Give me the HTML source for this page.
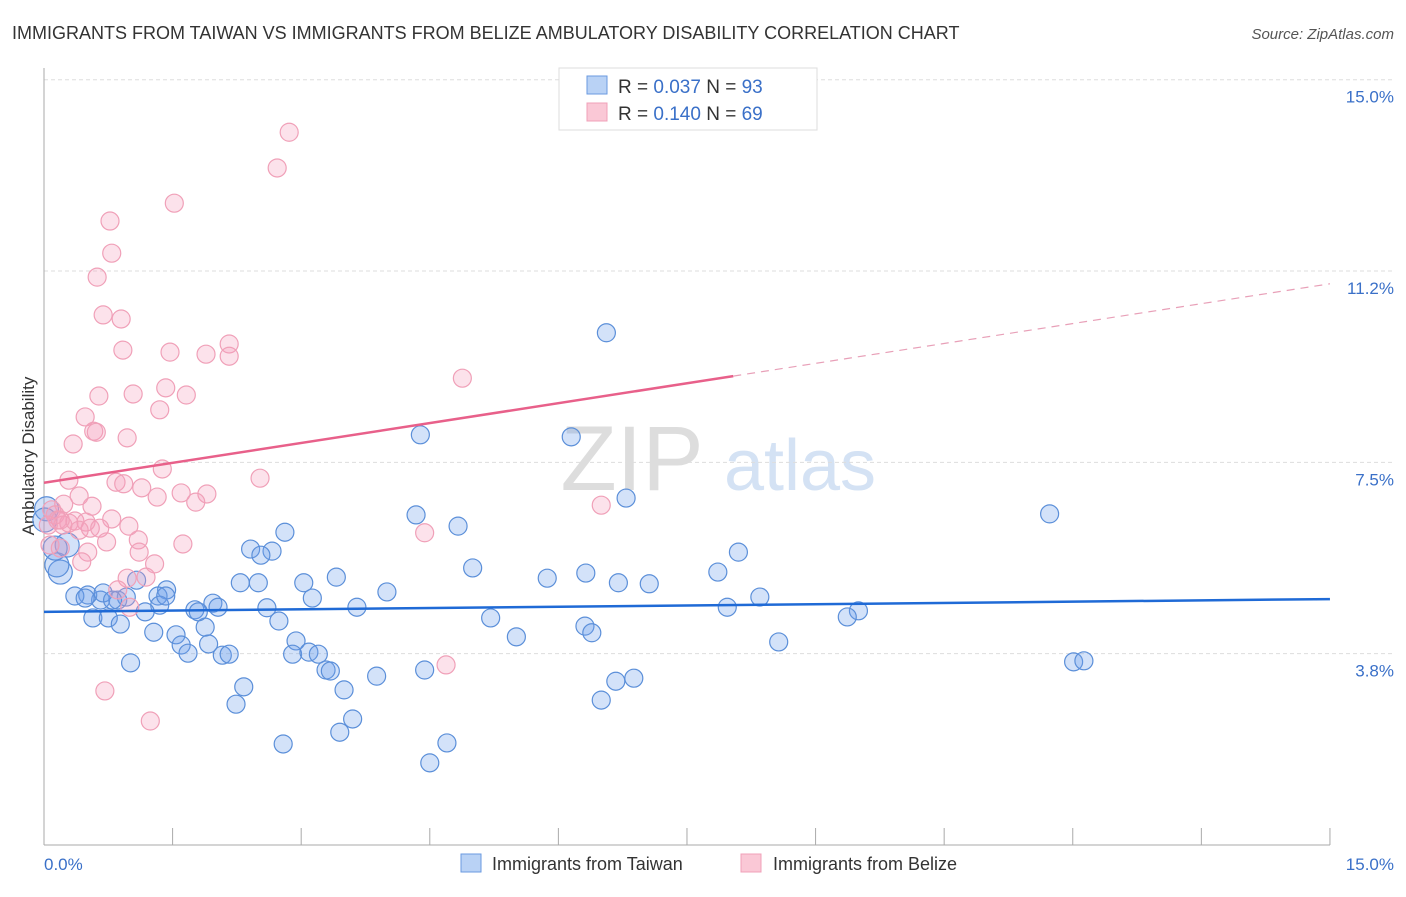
<!DOCTYPE html>
<html><head><meta charset="utf-8"><style>
body{margin:0;background:#fff;font-family:"Liberation Sans",sans-serif}
svg text{font-family:"Liberation Sans",sans-serif}
</style></head><body>
<svg width="1406" height="892" id="c">
<text x="12" y="39" font-size="18" fill="#333">IMMIGRANTS FROM TAIWAN VS IMMIGRANTS FROM BELIZE AMBULATORY DISABILITY CORRELATION CHART</text>
<text x="1394" y="39" font-size="15" fill="#555" font-style="italic" text-anchor="end">Source: ZipAtlas.com</text>
<g><text x="632" y="490" font-size="92" fill="#ddd" font-family="Liberation Serif" text-anchor="middle">ZIP</text><text x="800" y="490" font-size="72" fill="#d4e2f4" text-anchor="middle">atlas</text></g>
<g id="grid"></g>
<line x1="44" y1="68" x2="44" y2="845" stroke="#aaa"/>
<line x1="44" y1="845" x2="1330" y2="845" stroke="#aaa"/>
<text transform="translate(34,456) rotate(-90)" font-size="17" fill="#333" text-anchor="middle">Ambulatory Disability</text>
<text x="44" y="870" font-size="17" fill="#3a70c8">0.0%</text>
<text x="1394" y="870" font-size="17" fill="#3a70c8" text-anchor="end">15.0%</text>
<g id="pts"></g><g id="trend"></g>
<g>
<rect x="559" y="68" width="258" height="62" fill="#fff" stroke="#ddd"/>
<rect x="587" y="76" width="20" height="18" fill="#b9d2f5" stroke="#6a9ae0"/>
<rect x="587" y="103" width="20" height="18" fill="#fac8d6" stroke="#f0a0b8"/>
<text x="618" y="93" font-size="19" fill="#333">R = <tspan fill="#3a70c8">0.037</tspan>   N = <tspan fill="#3a70c8">93</tspan></text>
<text x="618" y="120" font-size="19" fill="#333">R = <tspan fill="#3a70c8"> 0.140</tspan>   N = <tspan fill="#3a70c8">69</tspan></text>
</g>
<g>
<rect x="461" y="854" width="20" height="18" fill="#b9d2f5" stroke="#6a9ae0"/>
<text x="492" y="870" font-size="18" fill="#333">Immigrants from Taiwan</text>
<rect x="741" y="854" width="20" height="18" fill="#fac8d6" stroke="#f0a0b8"/>
<text x="773" y="870" font-size="18" fill="#333">Immigrants from Belize</text>
</g>
</svg>
<script>
const yTicks=[3.75,7.5,11.25,15];
const yTickLabels=["3.8%","7.5%","11.2%","15.0%"];
const xTicks=[0,1.5,3,4.5,6,7.5,9,10.5,12,13.5,15];
const blueX=[6.56,4.39,6.15,6.79,4.34,4.83,11.73,2.81,2.41,2.66,2.53,8.10,5.00,3.41,5.87,6.32,6.70,7.06,7.86,2.29,2.50,3.03,4.00,3.13,8.35,7.97,9.50,9.37,3.65,2.60,1.76,1.97,1.43,1.33,1.08,1.35,1.18,0.86,0.96,0.66,0.51,0.36,0.48,0.57,0.75,0.89,1.28,1.54,1.60,1.68,1.88,1.92,2.08,2.16,2.74,2.94,2.90,3.09,3.20,3.29,3.34,3.50,3.88,4.44,5.21,5.51,6.31,6.39,8.57,12.01,12.13,1.01,2.33,2.24,6.67,6.88,6.50,3.45,3.60,2.79,4.70,4.50,0.19,0.15,0.27,0.13,0.03,0.01,0.69,0.80,1.42,1.80,2.03];
const blueY=[10.04,8.04,8.00,6.80,6.47,6.25,6.49,6.13,5.80,5.76,5.68,5.74,5.43,5.25,5.23,5.33,5.14,5.12,5.35,5.14,5.14,5.14,4.96,4.84,4.86,4.66,4.59,4.47,4.66,4.65,4.61,4.74,5.00,4.88,5.19,4.70,4.57,4.80,4.86,4.80,4.90,4.88,4.84,4.45,4.45,4.33,4.17,4.12,3.92,3.76,4.27,3.94,3.72,3.74,4.39,4.00,3.74,3.78,3.74,3.43,3.41,3.04,3.31,3.43,4.45,4.08,4.29,4.16,3.98,3.59,3.61,3.57,3.10,2.76,3.21,3.27,2.84,2.21,2.47,1.98,2.00,1.61,5.35,5.49,5.88,5.82,6.59,6.37,4.94,4.80,4.88,4.57,4.66];
const pinkX=[2.86,2.72,1.52,0.77,0.79,0.62,0.69,0.90,2.16,0.92,1.47,1.89,2.16,4.88,1.42,1.04,1.66,0.64,1.35,0.48,0.58,0.61,0.97,0.34,1.38,2.52,0.29,0.84,0.93,0.41,1.14,1.32,1.60,1.90,1.77,6.50,0.23,0.56,0.09,0.13,0.16,0.22,0.29,0.36,0.49,0.79,0.54,0.65,0.99,0.41,4.44,0.73,1.10,1.62,0.07,0.19,0.51,1.11,0.44,1.29,0.97,1.19,0.86,1.00,4.69,0.71,1.24,0.19,0.05];
const pinkY=[13.97,13.27,12.58,12.23,11.60,11.13,10.39,10.31,9.82,9.70,9.66,9.62,9.58,9.15,8.96,8.84,8.82,8.80,8.53,8.39,8.11,8.09,7.98,7.86,7.37,7.19,7.15,7.11,7.08,6.84,7.00,6.82,6.90,6.88,6.72,6.66,6.68,6.64,6.57,6.47,6.37,6.27,6.31,6.35,6.33,6.39,6.21,6.21,6.25,6.17,6.12,5.94,5.98,5.90,5.88,5.82,5.74,5.74,5.55,5.51,5.23,5.25,5.00,4.66,3.53,3.02,2.43,6.37,6.27];
const blueTrend=[4.57,4.82];
const pinkTrend=[7.10,11.0];
const pinkSolidEnd=8.04;
const NS="http://www.w3.org/2000/svg";
const sx=v=>44+v*85.73, sy=v=>845-v*51.02;
function mk(t,a,p){const e=document.createElementNS(NS,t);for(const k in a)e.setAttribute(k,a[k]);p.appendChild(e);return e;}
const grid=document.getElementById('grid');
yTicks.forEach((t,i)=>{
 const l=mk('line',{x1:44,x2:1394,y1:sy(t),y2:sy(t),stroke:'#ddd','stroke-dasharray':'4,3'},grid);
 
 
 const tx=mk('text',{x:1394,y:sy(t)+23,'font-size':17,fill:'#3a70c8','text-anchor':'end'},grid);
 tx.textContent=yTickLabels[i];
 
 
});
xTicks.forEach(t=>{
 const l=mk('line',{x1:sx(t),x2:sx(t),y1:828,y2:845,stroke:'#aaa'},grid);
 
 
});
const pts=document.getElementById('pts');
blueX.forEach((x,i)=>{
 const big=x<0.3&&blueY[i]>5.3;
 const c=mk('circle',{cx:sx(x),cy:sy(blueY[i]),r:big?12:9,fill:'rgba(110,160,235,0.3)',stroke:'#5b8fd9','stroke-width':1.2},pts);
 
 
});
pinkX.forEach((x,i)=>{
 const c=mk('circle',{cx:sx(x),cy:sy(pinkY[i]),r:9,fill:'rgba(245,160,190,0.3)',stroke:'#f0a0b8','stroke-width':1.2},pts);
 
 
});
const tr=document.getElementById('trend');
const b=mk('line',{x1:sx(0),y1:sy(blueTrend[0]),x2:sx(15),y2:sy(blueTrend[1]),stroke:'#1f6ad6','stroke-width':2.5},tr);


const pe=pinkTrend[0]+(pinkTrend[1]-pinkTrend[0])*pinkSolidEnd/15;
const p1=mk('line',{x1:sx(0),y1:sy(pinkTrend[0]),x2:sx(pinkSolidEnd),y2:sy(pe),stroke:'#e8608a','stroke-width':2.5},tr);


const p2=mk('line',{x1:sx(pinkSolidEnd),y1:sy(pe),x2:sx(15),y2:sy(pinkTrend[1]),stroke:'#e8a0b8','stroke-width':1.2,'stroke-dasharray':'8,6'},tr);


</script>
</body></html>
